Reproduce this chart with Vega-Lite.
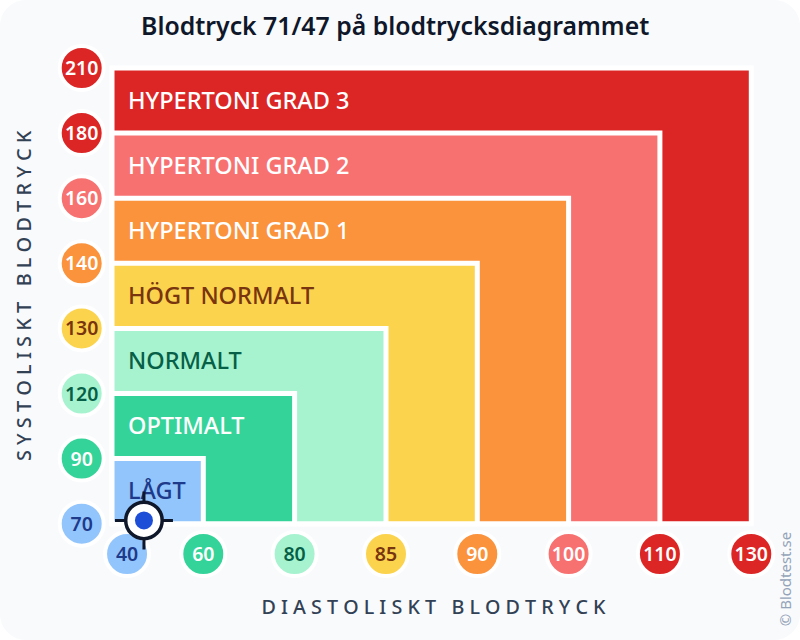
{
  "$schema": "https://vega.github.io/schema/vega-lite/v6.json",
  "width": 800,
  "height": 640,
  "padding": 0,
  "autosize": {"type": "fit", "contains": "padding"},
  "background": "#ffffff",
  "config": {"view": {"stroke": null}, "text": {"font": "Noto Sans"}},
  "datasets": {
    "zoner": [
      {"zon": "Hypertoni grad 3", "dia": 130, "sys": 210},
      {"zon": "Hypertoni grad 2", "dia": 110, "sys": 180},
      {"zon": "Hypertoni grad 1", "dia": 100, "sys": 160},
      {"zon": "Högt normalt", "dia": 90, "sys": 140},
      {"zon": "Normalt", "dia": 85, "sys": 130},
      {"zon": "Optimalt", "dia": 80, "sys": 120},
      {"zon": "Lågt", "dia": 60, "sys": 90}
    ],
    "etiketter": [
      {"zon": "Hypertoni grad 3", "etikett": "HYPERTONI GRAD 3", "dia": 43.5, "sys": 195},
      {"zon": "Hypertoni grad 2", "etikett": "HYPERTONI GRAD 2", "dia": 43.5, "sys": 170},
      {"zon": "Hypertoni grad 1", "etikett": "HYPERTONI GRAD 1", "dia": 43.5, "sys": 150},
      {"zon": "Högt normalt", "etikett": "HÖGT NORMALT", "dia": 43.5, "sys": 135},
      {"zon": "Normalt", "etikett": "NORMALT", "dia": 43.5, "sys": 125},
      {"zon": "Optimalt", "etikett": "OPTIMALT", "dia": 43.5, "sys": 105},
      {"zon": "Lågt", "etikett": "LÅGT", "dia": 43.5, "sys": 80}
    ],
    "bubblor": [
      {"zon": "Hypertoni grad 3", "etikett": "210", "dia": 30, "sys": 210},
      {"zon": "Hypertoni grad 3", "etikett": "180", "dia": 30, "sys": 180},
      {"zon": "Hypertoni grad 2", "etikett": "160", "dia": 30, "sys": 160},
      {"zon": "Hypertoni grad 1", "etikett": "140", "dia": 30, "sys": 140},
      {"zon": "Högt normalt", "etikett": "130", "dia": 30, "sys": 130},
      {"zon": "Normalt", "etikett": "120", "dia": 30, "sys": 120},
      {"zon": "Optimalt", "etikett": "90", "dia": 30, "sys": 90},
      {"zon": "Lågt", "etikett": "70", "dia": 30, "sys": 70},
      {"zon": "Lågt", "etikett": "40", "dia": 43.3, "sys": 62},
      {"zon": "Optimalt", "etikett": "60", "dia": 60, "sys": 62},
      {"zon": "Normalt", "etikett": "80", "dia": 80, "sys": 62},
      {"zon": "Högt normalt", "etikett": "85", "dia": 85, "sys": 62},
      {"zon": "Hypertoni grad 1", "etikett": "90", "dia": 90, "sys": 62},
      {"zon": "Hypertoni grad 2", "etikett": "100", "dia": 100, "sys": 62},
      {"zon": "Hypertoni grad 3", "etikett": "110", "dia": 110, "sys": 62},
      {"zon": "Hypertoni grad 3", "etikett": "130", "dia": 130, "sys": 62}
    ],
    "matning": [{"dia": 47, "sys": 71}]
  },
  "encoding": {
    "x": {
      "field": "dia",
      "type": "quantitative",
      "axis": null,
      "scale": {
        "domain": [10, 30, 40, 60, 80, 85, 90, 100, 110, 130, 140],
        "range": [0, 81.7, 112, 203.3, 294.6, 386, 477.3, 568.6, 659.9, 751.3, 800]
      }
    },
    "y": {
      "field": "sys",
      "type": "quantitative",
      "axis": null,
      "scale": {
        "domain": [40, 62, 70, 90, 120, 130, 140, 160, 180, 210, 230],
        "range": [640, 554, 523.7, 458.6, 393.5, 328.4, 263.3, 198.2, 133.1, 68, 0]
      }
    }
  },
  "layer": [
    {
      "data": {"values": [{"dia": 140, "sys": 230}]},
      "mark": {"type": "rect", "color": "#f8fafc", "cornerRadius": 26},
      "encoding": {"x2": {"datum": 10}, "y2": {"datum": 40}}
    },
    {
      "data": {"name": "zoner"},
      "mark": {"type": "rect", "stroke": "#ffffff", "strokeWidth": 5},
      "encoding": {
        "x2": {"datum": 40},
        "y2": {"datum": 70},
        "color": {
          "field": "zon",
          "type": "nominal",
          "legend": null,
          "scale": {
            "domain": ["Lågt", "Optimalt", "Normalt", "Högt normalt", "Hypertoni grad 1", "Hypertoni grad 2", "Hypertoni grad 3"],
            "range": ["#93c5fd", "#34d399", "#a7f3d0", "#fcd34d", "#fb923c", "#f87171", "#dc2626"]
          }
        }
      }
    },
    {
      "data": {"name": "etiketter"},
      "mark": {"type": "text", "align": "left", "baseline": "middle", "dy": 1, "fontSize": 23.5, "fontWeight": 500},
      "encoding": {
        "text": {"field": "etikett"},
        "fill": {
          "field": "zon",
          "type": "nominal",
          "legend": null,
          "scale": {
            "domain": ["Lågt", "Optimalt", "Normalt", "Högt normalt", "Hypertoni grad 1", "Hypertoni grad 2", "Hypertoni grad 3"],
            "range": ["#1e3a8a", "#ffffff", "#065f46", "#78350f", "#ffffff", "#ffffff", "#ffffff"]
          }
        }
      }
    },
    {
      "data": {"name": "bubblor"},
      "mark": {"type": "point", "shape": "circle", "filled": true, "opacity": 1, "size": 1936, "stroke": "#ffffff", "strokeWidth": 4},
      "encoding": {
        "color": {
          "field": "zon",
          "type": "nominal",
          "legend": null,
          "scale": {
            "domain": ["Lågt", "Optimalt", "Normalt", "Högt normalt", "Hypertoni grad 1", "Hypertoni grad 2", "Hypertoni grad 3"],
            "range": ["#93c5fd", "#34d399", "#a7f3d0", "#fcd34d", "#fb923c", "#f87171", "#dc2626"]
          }
        }
      }
    },
    {
      "data": {"name": "bubblor"},
      "mark": {"type": "text", "align": "center", "baseline": "middle", "dy": 1, "fontSize": 19.5, "fontWeight": 600},
      "encoding": {
        "text": {"field": "etikett"},
        "fill": {
          "field": "zon",
          "type": "nominal",
          "legend": null,
          "scale": {
            "domain": ["Lågt", "Optimalt", "Normalt", "Högt normalt", "Hypertoni grad 1", "Hypertoni grad 2", "Hypertoni grad 3"],
            "range": ["#1e3a8a", "#ffffff", "#065f46", "#78350f", "#ffffff", "#ffffff", "#ffffff"]
          }
        }
      }
    },
    {
      "data": {"name": "matning"},
      "mark": {"type": "point", "shape": "M-1,0L1,0M0,-1L0,1", "filled": false, "opacity": 1, "size": 3364, "stroke": "#0f172a", "strokeWidth": 3}
    },
    {
      "data": {"name": "matning"},
      "mark": {"type": "point", "shape": "circle", "filled": true, "opacity": 1, "size": 1332, "fill": "#ffffff", "stroke": "#0f172a", "strokeWidth": 3.5}
    },
    {
      "data": {"name": "matning"},
      "mark": {"type": "point", "shape": "circle", "filled": true, "opacity": 1, "size": 324, "fill": "#1d4ed8"}
    },
    {
      "data": {"values": [{"text": "Blodtryck 71/47 på blodtrycksdiagrammet", "dia": 85.5, "sys": 222}]},
      "mark": {"type": "text", "align": "center", "baseline": "middle", "dy": 1, "fontSize": 24.8, "fontWeight": 600, "color": "#0f172a"},
      "encoding": {"text": {"field": "text"}}
    },
    {
      "data": {"values": [{"text": "D I A S T O L I S K T\u00a0\u00a0\u00a0B L O D T R Y C K", "dia": 87.6, "sys": 48.5}]},
      "mark": {"type": "text", "align": "center", "baseline": "middle", "dy": 1, "fontSize": 19.7, "fontWeight": 500, "color": "#334155"},
      "encoding": {"text": {"field": "text"}}
    },
    {
      "data": {"values": [{"text": "S Y S T O L I S K T\u00a0\u00a0\u00a0B L O D T R Y C K", "dia": 16.1, "sys": 135}]},
      "mark": {"type": "text", "align": "center", "baseline": "middle", "angle": 270, "fontSize": 19.9, "fontWeight": 500, "color": "#334155"},
      "encoding": {"text": {"field": "text"}}
    },
    {
      "data": {"values": [{"text": "© Blodtest.se", "dia": 137.2, "sys": 55.6}]},
      "mark": {"type": "text", "align": "center", "baseline": "middle", "angle": 270, "fontSize": 15, "color": "#94a3b8"},
      "encoding": {"text": {"field": "text"}}
    }
  ]
}
